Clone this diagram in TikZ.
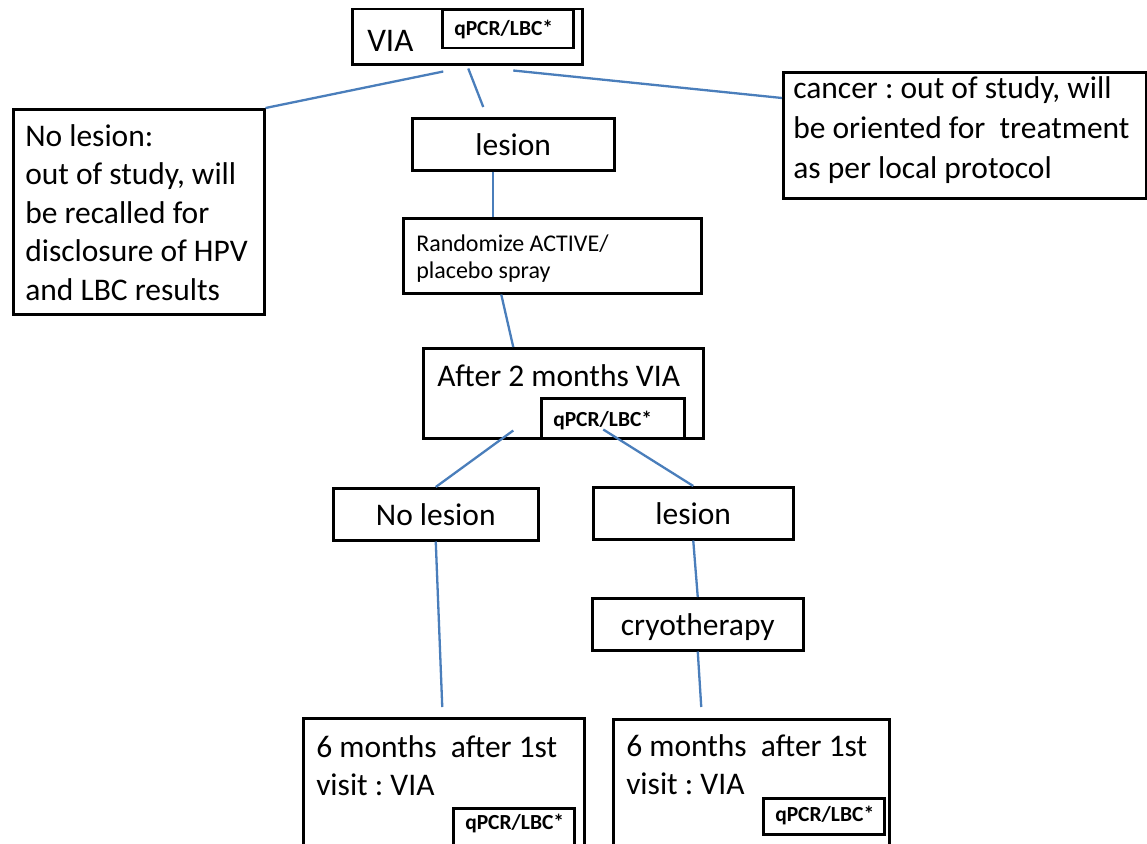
\documentclass[tikz,border=0pt]{standalone}
\usepackage{fontspec}
\setmainfont{Carlito}
\usetikzlibrary{positioning}
\definecolor{linkblue}{RGB}{74,126,187}

\begin{document}
\frenchspacing
\begin{tikzpicture}[x=1pt,y=-1pt,
  box/.style={draw=black,fill=white,line width=2.5pt,rectangle,anchor=north west,inner ysep=0pt,align=flush left},
  bigtext/.style={font=\fontsize{31.5}{38.5}\selectfont},
  single/.style={box,bigtext,text height=23pt,text depth=0pt,minimum height=52pt},
  qbox/.style={box,inner xsep=12pt,font=\fontsize{21.5}{24}\selectfont\bfseries},
  link/.style={draw=linkblue,line width=2.3pt}]
\useasboundingbox (0,0) rectangle (1147,843);

% top of the tree
\node[box,font=\fontsize{33}{40}\selectfont,text width=200pt,inner xsep=15pt,text height=42pt,text depth=13pt] (via) at (351,8) {VIA};
\node[qbox,anchor=north east,text width=107pt,text height=25pt,text depth=13pt] (viaq) at ([shift={(-9,1)}]via.north east) {qPCR/LBC*};

\node[box,bigtext,text width=227pt,inner xsep=12pt,text height=37pt,text depth=168pt] (nolesA) at (12,108)
  {No lesion:\\out of study, will\\be recalled for\\disclosure of HPV\\and LBC results};
\node[single,minimum width=202pt] (lesA) at (411,117) {lesion};
\node[box,font=\fontsize{31.5}{40}\selectfont,text width=343pt,inner xsep=10pt,text height=26pt,text depth=100pt] (cancer) at (782,71)
  {cancer : out of study, will\\be oriented for \ treatment\\as per local protocol};

% randomisation and second visit
\node[box,font=\fontsize{24}{27}\selectfont,text width=272pt,inner xsep=13pt,text height=33pt,text depth=42pt] (rand) at (402,217)
  {Randomize ACTIVE/\\placebo spray};
\node[box,bigtext,text width=252pt,inner xsep=14pt,text height=38pt,text depth=52pt] (after) at (422,347) {After 2 months VIA};
\node[qbox,anchor=south east,text width=119pt,text height=28pt,text depth=12pt] (afterq) at ([shift={(-19,0)}]after.south east) {qPCR/LBC*};

\node[single,minimum width=205pt] (nolesB) at (332,487) {No lesion};
\node[single,minimum width=200pt] (lesB) at (592,486) {lesion};
\node[single,minimum width=211pt] (cryo) at (591,597) {cryotherapy};

% six month visit
\node[box,bigtext,text width=255pt,inner xsep=13pt,text height=39pt,text depth=150pt] (bl) at (302,717)
  {6 months \ after 1st\\visit : VIA};
\node[qbox,anchor=north east,text width=97pt,text height=21pt,text depth=40pt] (blq) at ([shift={(-10,90)}]bl.north east) {qPCR/LBC*};
\node[box,bigtext,text width=250pt,inner xsep=13pt,text height=37pt,text depth=150pt] (br) at (612,718)
  {6 months \ after 1st\\visit : VIA};
\node[qbox,anchor=north east,text width=97pt,text height=23pt,text depth=13pt] (brq) at ([shift={(-5,79)}]br.north east) {qPCR/LBC*};

% connectors
\draw[link] ([shift={(-24,6)}]via.south) -- (nolesA.north east);
\draw[link] ([shift={(1,3)}]via.south) -- ([shift={(-30,-10)}]lesA.north);
\draw[link] ([shift={(46,5)}]via.south) -- ([shift={(0,27)}]cancer.north west);
\draw[link] ([shift={(-20,0)}]lesA.south) -- ([shift={(-59,0)}]rand.north);
\draw[link] ([shift={(-51,0)}]rand.south) -- ([shift={(-50,0)}]after.north);
\draw[link] ([shift={(-50,-9)}]after.south) -- (nolesB.north);
\draw[link] ([shift={(40,-10)}]after.south) -- (lesB.north);
\draw[link] (nolesB.south) -- ([shift={(-1.5,-10)}]bl.north);
\draw[link] (lesB.south) -- (cryo.north);
\draw[link] (cryo.south) -- ([shift={(-50,-11)}]br.north);
\end{tikzpicture}
\end{document}
